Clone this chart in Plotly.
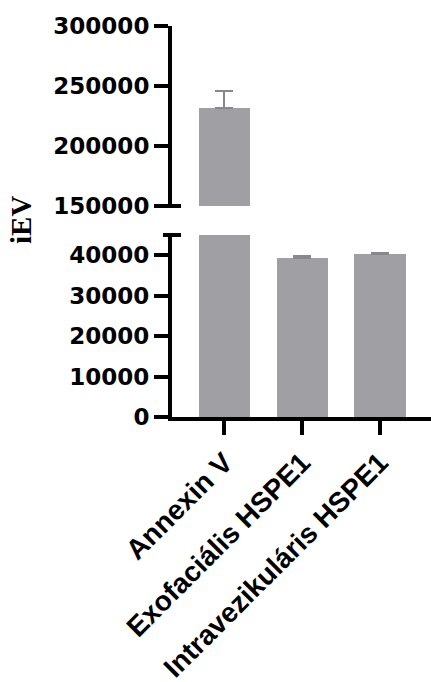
import plotly.graph_objects as go

categories = ["Annexin V", "Exofaciális HSPE1", "Intravezikuláris HSPE1"]
means = [232000, 39400, 40300]
sd_up = [13500, 350, 350]
sd_down = [0, 0, 0]

lower_ticks = [0, 10000, 20000, 30000, 40000]
upper_ticks = [150000, 200000, 250000, 300000]

BAR = "#a0a0a4"
ERR = "#88888c"
TICKFONT = dict(family="DejaVu Sans", size=23, color="black", weight="bold")
CATFONT = dict(family="Liberation Sans", size=28, color="black", weight="bold")

W, H = 431, 682
ML, MR, MT, MB = 172, 0, 26, 265
PW = W - ML - MR
PH = H - MT - MB

lower_top_px = 235
upper_bot_px = 206
lower_dom = [0, (H - MB - lower_top_px) / PH]
upper_dom = [(H - MB - upper_bot_px) / PH, 1]

fig = go.Figure()
for ya in ["y", "y2"]:
    fig.add_trace(go.Bar(
        x=list(range(len(categories))), y=means, yaxis=ya, xaxis="x",
        width=0.656, marker=dict(color=BAR, line=dict(width=0)),
        error_y=dict(type="data", symmetric=False, array=sd_up, arrayminus=sd_down,
                     color=ERR, thickness=2, width=9),
        showlegend=False, hoverinfo="skip",
    ))

axis_common = dict(showgrid=False, zeroline=False, showline=True, linecolor="black",
                   linewidth=4, ticks="outside", ticklen=14, tickwidth=4, tickcolor="black")

fig.update_layout(
    width=W, height=H, margin=dict(l=ML, r=MR, t=MT, b=MB),
    paper_bgcolor="white", plot_bgcolor="white",
    bargap=0,
    xaxis=dict(range=[-0.675, 2.656], domain=[0, 1], anchor="y",
               tickvals=list(range(len(categories))), ticktext=categories,
               tickangle=-45, tickfont=CATFONT, **axis_common),
    yaxis=dict(domain=lower_dom, range=[0, 45000], anchor="x", tickfont=TICKFONT,
               tickvals=lower_ticks, ticktext=[str(v) for v in lower_ticks], **axis_common),
    yaxis2=dict(domain=upper_dom, range=[150000, 300000], anchor="x", tickfont=TICKFONT,
                tickvals=upper_ticks, ticktext=[str(v) for v in upper_ticks], **axis_common),
)

cap = 9 / PW
for yv in [lower_dom[1], upper_dom[0]]:
    fig.add_shape(type="line", xref="paper", yref="paper", x0=-cap, x1=cap, y0=yv, y1=yv,
                  line=dict(color="black", width=4))

fig.add_annotation(text="<b>iEV</b>", xref="paper", yref="paper",
                   x=(21 - ML) / PW, y=(H - MB - 220) / PH, textangle=-90,
                   showarrow=False, font=dict(family="Liberation Serif", size=29, color="black"),
                   xanchor="center", yanchor="middle")

fig.write_html("out.html")
